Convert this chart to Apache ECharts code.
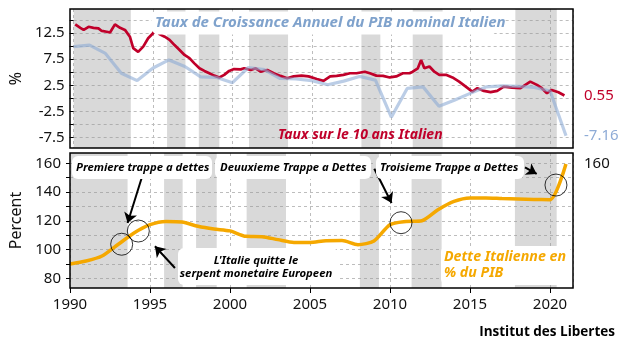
<!DOCTYPE html>
<html>
<head>
<meta charset="utf-8">
<script src="https://cdn.jsdelivr.net/npm/echarts@6/dist/echarts.min.js"></script>
<style>
html, body { margin: 0; padding: 0; background: #fff; }
#chart { width: 623px; height: 351px; }
</style>
</head>
<body>
<div id="chart"></div>
<script>
// Taux sur le 10 ans italien (annee decimale / %)
const tauxAnnees = [1990.10, 1990.42, 1990.63, 1990.94, 1991.25, 1991.56, 1991.77, 1992.08, 1992.29, 1992.60,
  1992.92, 1993.23, 1993.54, 1993.75, 1994.06, 1994.38, 1994.69, 1995.00, 1995.15, 1995.42,
  1995.73, 1996.04, 1996.35, 1996.67, 1996.98, 1997.29, 1997.60, 1997.92, 1998.23, 1998.54,
  1998.85, 1999.17, 1999.48, 1999.79, 2000.10, 2000.52, 2000.73, 2001.15, 2001.46, 2001.77,
  2002.19, 2002.60, 2003.02, 2003.44, 2003.85, 2004.35, 2004.79, 2005.31, 2005.73, 2006.15,
  2006.56, 2006.98, 2007.40, 2007.81, 2008.33, 2008.65, 2009.06, 2009.48, 2009.90, 2010.31,
  2010.73, 2011.15, 2011.35, 2011.67, 2011.875, 2012.08, 2012.40, 2012.71, 2013.02, 2013.44,
  2013.85, 2014.27, 2014.69, 2015.10, 2015.42, 2015.83, 2016.25, 2016.67, 2017.08, 2017.60,
  2018.13, 2018.44, 2018.75, 2019.17, 2019.48, 2019.80, 2020.10, 2020.52, 2020.90]
const tauxValeurs = [14.15, 13.5, 13.1, 13.7, 13.5, 13.4, 12.9, 12.75, 12.6, 14.15,
  13.5, 13.1, 11.8, 9.6, 8.9, 9.9, 11.5, 12.45, 13.3, 12.25,
  11.8, 11.2, 10.2, 9.25, 8.3, 7.7, 6.7, 5.75, 5.25, 4.8,
  4.35, 4.0, 4.5, 5.25, 5.6, 5.55, 5.75, 5.44, 5.75, 5.1,
  5.44, 4.8, 4.3, 3.85, 4.2, 4.35, 4.2, 3.7, 3.35, 4.2,
  4.3, 4.5, 4.8, 4.8, 5.1, 4.8, 4.35, 4.3, 4.0, 4.2,
  4.8, 4.8, 5.1, 5.75, 7.35, 5.75, 6.1, 5.1, 4.5, 4.5,
  4.0, 3.2, 2.25, 1.3, 1.94, 1.43, 1.18, 1.43, 2.25, 2.07,
  1.94, 2.58, 3.2, 2.58, 1.94, 0.99, 1.6, 1.18, 0.55]

// Donnees annuelles
const annees = [1990, 1991, 1992, 1993, 1994, 1995, 1996, 1997, 1998, 1999,
  2000, 2001, 2002, 2003, 2004, 2005, 2006, 2007, 2008, 2009,
  2010, 2011, 2012, 2013, 2014, 2015, 2016, 2017, 2018, 2019, 2020, 2021]
const pibNominal = [9.9, 10.2, 8.6, 4.8, 3.4, 5.8, 7.35, 6.1, 4.1, 4.0,
  3.0, 5.9, 5.5, 3.8, 3.7, 3.4, 2.6, 3.3, 4.2, 3.5,
  -3.6, 1.9, 2.2, -1.5, -0.3, 1.0, 2.2, 2.4, 2.3, 2.1, 1.4, -7.16]
const dettePib = [90, 92, 95.5, 103.5, 111.5, 117.3, 119.6, 119.2, 116.2, 114.3,
  113, 109.2, 109, 106.9, 105, 105, 106.2, 106.3, 103.4, 106,
  117.3, 119.5, 120.1, 127.7, 133.5, 135.9, 135.9, 135.5, 135.2, 134.9, 134.7, 159.5]

// periodes grisees
const bandes = [[1990, 1993.6], [1995.88, 1997.04], [1997.88, 1999.17], [2001.04, 2003.5],
  [2008.12, 2009.31], [2011.35, 2013.23], [2017.81, 2020.42]]

// graduations
const ticksHaut = [-7.5, -2.5, 2.5, 7.5, 12.5]
const grilleHaut = [-7.5, -5, -2.5, 0, 2.5, 5, 7.5, 10, 12.5, 15]
const ticksBas = [80, 100, 120, 140, 160]
const grilleBas = [80, 90, 100, 110, 120, 130, 140, 150, 160]
const derniersHaut = [0.55, -7.16]
const derniersBas = [160]

// annotations (cercles et fleches)
const cercles = [[1993.23, 103.7], [1994.27, 112.9], [2010.69, 118.7], [2020.375, 144.9]]
const fleches = [
  [[1994.48, 149.8], [1993.6, 118.5]],
  [[1996.56, 87.2], [1995.31, 102.3]],
  [[2009.02, 156.2], [2010.1, 132.4]],
  [[2018.44, 157.2], [2019.17, 152.6]]
]

const ROUGE = '#c0002a'
const BLEU = '#8eabd6'
const ORANGE = '#f5a800'
const GRIS = 'rgba(150, 150, 150, 0.36)'
const xMin = 1990
const xMax = 2021.44

const chart = echarts.init(document.getElementById('chart'))

const grilleStyle = { show: true, lineStyle: { color: '#bdbdbd', type: [3, 3], width: 1 } }
const labelFont = { color: '#111', fontSize: 15, fontFamily: 'Noto Sans' }

function bandesArea () {
  return {
    silent: true,
    itemStyle: { color: GRIS },
    data: bandes.map(b => [{ xAxis: b[0] }, { xAxis: b[1] }])
  }
}

function boite (x, y, w, h) {
  return { type: 'rect', z: 100, shape: { x: x, y: y, width: w, height: h, r: 6 }, style: { fill: '#fff' } }
}
function texte (t, x, y, font, fill, align) {
  return { type: 'text', z: 101, style: { text: t, x: x, y: y, font: font, fill: fill, align: align || 'left', verticalAlign: 'middle' } }
}

const fontNote = 'italic bold 11.3px "Noto Sans"'
const fontDette = 'italic bold 14.2px "Noto Sans"'

const option = {
  animation: false,
  grid: [
    { left: 70, top: 9, width: 503, height: 139 },
    { left: 70, top: 153, width: 503, height: 135 }
  ],
  xAxis: [
    {
      type: 'value', gridIndex: 0, min: xMin, max: xMax, interval: 5,
      axisLine: { show: false }, axisTick: { show: false }, axisLabel: { show: false },
      splitLine: grilleStyle
    },
    {
      type: 'value', gridIndex: 1, min: xMin, max: xMax, interval: 5,
      axisLine: { show: false },
      axisTick: { show: true, length: 5, lineStyle: { color: '#000' } },
      axisLabel: Object.assign({ margin: 9, showMaxLabel: false, formatter: v => String(v) }, labelFont),
      splitLine: grilleStyle
    }
  ],
  yAxis: [
    {
      type: 'value', gridIndex: 0, min: -9.5, max: 17.1,
      name: '%', nameLocation: 'middle', nameGap: 42,
      nameTextStyle: { fontSize: 16, fontFamily: 'Noto Sans', color: '#111' },
      axisLine: { show: false },
      axisTick: { show: true, length: 4, customValues: grilleHaut, lineStyle: { color: '#000' } },
      axisLabel: Object.assign({ customValues: ticksHaut, margin: 9 }, labelFont),
      splitLine: grilleStyle
    },
    {
      type: 'value', gridIndex: 1, min: 73.25, max: 167.2,
      name: 'Percent', nameLocation: 'middle', nameGap: 40,
      nameTextStyle: { fontSize: 16, fontFamily: 'Noto Sans', color: '#111' },
      axisLine: { show: false },
      axisTick: { show: true, length: 4, customValues: grilleBas, lineStyle: { color: '#000' } },
      axisLabel: Object.assign({ customValues: ticksBas, margin: 9 }, labelFont),
      splitLine: grilleStyle
    },
    {
      type: 'value', gridIndex: 0, position: 'right', min: -9.5, max: 17.1,
      axisLine: { show: false }, axisTick: { show: false }, splitLine: { show: false },
      axisLabel: {
        customValues: derniersHaut, margin: 11, fontSize: 15, fontFamily: 'Noto Sans',
        color: v => (Number(v) > 0 ? ROUGE : BLEU)
      }
    },
    {
      type: 'value', gridIndex: 1, position: 'right', min: 73.25, max: 167.2,
      axisLine: { show: false }, axisTick: { show: false }, splitLine: { show: false },
      axisLabel: Object.assign({ customValues: derniersBas, margin: 11 }, labelFont)
    }
  ],
  series: [
    {
      name: 'Taux 10 ans', type: 'line', xAxisIndex: 0, yAxisIndex: 0,
      data: tauxAnnees.map((a, i) => [a, tauxValeurs[i]]),
      symbol: 'none', lineStyle: { color: ROUGE, width: 2.7 },
      markArea: bandesArea()
    },
    {
      name: 'PIB nominal', type: 'line', xAxisIndex: 0, yAxisIndex: 0,
      data: annees.map((a, i) => [a, pibNominal[i]]),
      symbol: 'none', lineStyle: { color: BLEU, width: 3.2, opacity: 0.6 }
    },
    {
      name: 'Dette', type: 'line', xAxisIndex: 1, yAxisIndex: 1,
      data: annees.map((a, i) => [a, dettePib[i]]),
      smooth: 0.25, symbol: 'none', lineStyle: { color: ORANGE, width: 3.5 },
      markArea: bandesArea(),
      markLine: {
        silent: true, symbol: ['none', 'arrow'], symbolSize: 10,
        label: { show: false },
        lineStyle: { color: '#000', width: 2, type: 'solid' },
        data: fleches.map(f => [{ coord: f[0] }, { coord: f[1] }])
      }
    },
    {
      name: 'Trappes', type: 'scatter', xAxisIndex: 1, yAxisIndex: 1,
      data: cercles, symbol: 'circle', symbolSize: 22, z: 5,
      itemStyle: { color: 'rgba(0,0,0,0)', borderColor: '#000', borderWidth: 1 }
    }
  ],
  graphic: [
    boite(152, 11.5, 345, 23),
    texte('Taux de Croissance Annuel du PIB nominal Italien', 155, 23, 'italic bold 15px "Noto Sans"', '#7fa2cc'),
    texte('Taux sur le 10 ans Italien', 278, 135, 'italic bold 14px "Noto Sans"', ROUGE),
    boite(72, 156, 140, 23),
    texte('Premiere trappe a dettes', 76, 167.5, fontNote, '#000'),
    boite(215, 156, 156, 23),
    texte('Deuuxieme Trappe a Dettes', 220, 167.5, fontNote, '#000'),
    boite(376, 156, 148, 23),
    texte('Troisieme Trappe a Dettes', 380, 167.5, fontNote, '#000'),
    boite(178, 248, 160, 37),
    texte("L'Italie quitte le", 256, 261, fontNote, '#000', 'center'),
    texte('serpent monetaire Europeen', 256, 274, fontNote, '#000', 'center'),
    boite(441, 246, 130, 39),
    texte('Dette Italienne en', 444, 257, fontDette, ORANGE),
    texte('% du PIB', 444, 273, fontDette, ORANGE),
    texte('Institut des Libertes', 615, 332, 'bold 13.5px "Open Sans"', '#000', 'right'),
    { type: 'rect', z: 110, shape: { x: 70, y: 9, width: 503, height: 139 }, style: { fill: 'none', stroke: '#000', lineWidth: 1.5 } },
    { type: 'rect', z: 110, shape: { x: 70, y: 153, width: 503, height: 135 }, style: { fill: 'none', stroke: '#000', lineWidth: 1.5 } }
  ]
}

chart.setOption(option)
</script>
</body>
</html>
